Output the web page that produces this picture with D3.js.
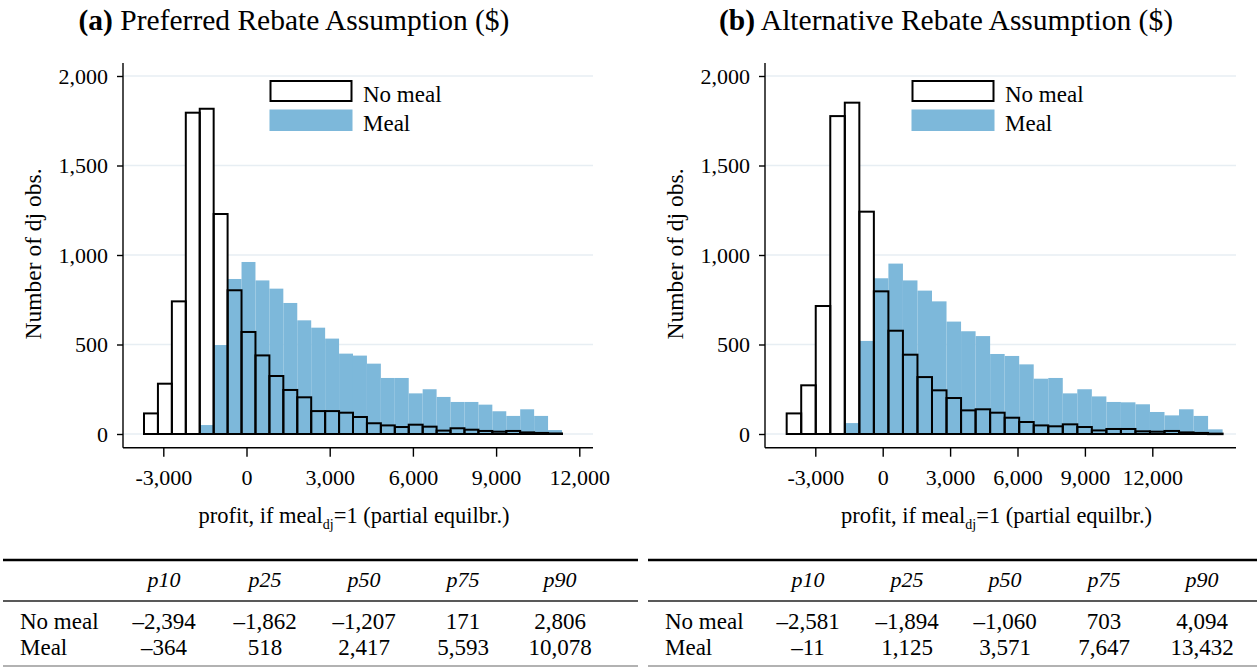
<!DOCTYPE html>
<html>
<head>
<meta charset="utf-8">
<script src="https://cdn.jsdelivr.net/npm/d3@7"></script>
<style>
  html, body { margin: 0; padding: 0; background: #fff; }
  svg { display: block; font-family: "Liberation Serif", "DejaVu Serif", serif; }
</style>
</head>
<body>
<svg id="chart" width="1257" height="667"></svg>
<script>
// ---------------- DATA ----------------
const xTickValues = [-3000, 0, 3000, 6000, 9000, 12000];
const yTickValues = [0, 500, 1000, 1500, 2000];

// Panel (a): histogram bins (start, width) and counts
const binStartA = -3696, binWidthA = 502.4;
const noMealA = [115,281,741,1795,1817,1229,803,570,439,324,246,205,128,128,119,95,60,48,39,52,41,19,32,24,17,13,17,9,6,3];
const mealA   = [0,0,0,0,50,497,866,961,858,812,732,635,594,533,449,438,393,313,313,227,250,207,179,179,164,127,101,138,101,22];

// Panel (b)
const binStartB = -4274, binWidthB = 646.8;
const noMealB = [115,272,715,1776,1851,1242,797,577,443,318,244,201,132,138,119,91,67,48,43,54,39,20,28,28,15,13,17,9,6,2];
const mealB   = [0,0,0,0,61,520,870,952,858,801,741,628,574,547,447,436,389,309,313,227,250,210,179,177,166,123,104,138,101,26];

// Percentile tables
const pctHeaders = ["p10", "p25", "p50", "p75", "p90"];
const rowLabels = ["No meal", "Meal"];
const tableA_noMeal = [-2394, -1862, -1207, 171, 2806];
const tableA_meal   = [-364, 518, 2417, 5593, 10078];
const tableB_noMeal = [-2581, -1894, -1060, 703, 4094];
const tableB_meal   = [-11, 1125, 3571, 7647, 13432];

const legendLabels = ["No meal", "Meal"];
const titlesA = ["(a)", " Preferred Rebate Assumption ($)"];
const titlesB = ["(b)", " Alternative Rebate Assumption ($)"];

// ---------------- STYLE ----------------
const MEAL_BLUE = "#7db8da";
const GRID = "#e7eef3";

const svg = d3.select("#chart");
const fmt = d3.format(",");
const tickFmt = d => d < 0 ? "-" + fmt(-d) : fmt(d);
const tabFmt = d => d < 0 ? "\u2013" + fmt(-d) : fmt(d);

function drawPanel(cfg) {
  const g = svg.append("g");
  const x = d3.scaleLinear().domain([-3000, 12000]).range([cfg.x0, cfg.x1]);
  const y = d3.scaleLinear().domain([0, 2000]).range([434, 76]);
  const plotTop = 63, axisY = 447.7;

  // gridlines
  g.append("g").selectAll("line").data(yTickValues).join("line")
    .attr("x1", cfg.axisLeft).attr("x2", cfg.axisRight)
    .attr("y1", d => y(d)).attr("y2", d => y(d))
    .attr("stroke", GRID).attr("stroke-width", 1.3);

  const binsNo = cfg.noMeal.map((v, i) => ({x0: cfg.start + i * cfg.width, x1: cfg.start + (i + 1) * cfg.width, v}));
  const binsMeal = cfg.meal.map((v, i) => ({x0: cfg.start + i * cfg.width, x1: cfg.start + (i + 1) * cfg.width, v}));

  // no-meal white fill
  g.append("g").selectAll("rect").data(binsNo).join("rect")
    .attr("x", d => x(d.x0)).attr("width", d => x(d.x1) - x(d.x0))
    .attr("y", d => y(d.v)).attr("height", d => y(0) - y(d.v))
    .attr("fill", "#fff");
  // meal bars
  g.append("g").selectAll("rect").data(binsMeal.filter(d => d.v > 0)).join("rect")
    .attr("x", d => x(d.x0)).attr("width", d => x(d.x1) - x(d.x0))
    .attr("y", d => y(d.v)).attr("height", d => y(0) - y(d.v))
    .attr("fill", MEAL_BLUE);
  // no-meal outlines
  g.append("g").selectAll("rect").data(binsNo).join("rect")
    .attr("x", d => x(d.x0)).attr("width", d => x(d.x1) - x(d.x0))
    .attr("y", d => y(d.v)).attr("height", d => Math.max(0.5, y(0) - y(d.v)))
    .attr("fill", "none").attr("stroke", "#000").attr("stroke-width", 2);

  // x axis
  const xa = g.append("g").attr("transform", `translate(0,${axisY})`)
    .call(d3.axisBottom(x).tickValues(xTickValues).tickFormat(tickFmt).tickSize(9).tickPadding(13));
  xa.select(".domain").remove();
  xa.append("line").attr("x1", cfg.axisLeft).attr("x2", cfg.axisRight).attr("stroke", "#000").attr("stroke-width", 1.4);
  xa.selectAll(".tick line").attr("stroke", "#000").attr("stroke-width", 1.4);
  xa.selectAll("text").attr("font-size", 22).attr("fill", "#000").attr("font-family", "Liberation Serif");

  // y axis
  const ya = g.append("g").attr("transform", `translate(${cfg.axisLeft},0)`)
    .call(d3.axisLeft(y).tickValues(yTickValues).tickFormat(fmt).tickSize(6).tickPadding(9));
  ya.select(".domain").remove();
  ya.append("line").attr("y1", plotTop).attr("y2", axisY).attr("stroke", "#000").attr("stroke-width", 1.4);
  ya.selectAll(".tick line").attr("stroke", "#000").attr("stroke-width", 1.4);
  ya.selectAll("text").attr("font-size", 22).attr("fill", "#000").attr("font-family", "Liberation Serif");

  // y title
  g.append("text").attr("transform", `translate(${cfg.axisLeft - 90},254) rotate(-90)`)
    .attr("text-anchor", "middle").attr("dominant-baseline", "central")
    .attr("font-size", 23.5).text("Number of dj obs.");

  // x title
  const xt = g.append("text").attr("x", (cfg.axisLeft + cfg.axisRight) / 2 - 4).attr("y", 523)
    .attr("text-anchor", "middle").attr("font-size", 22.5);
  xt.append("tspan").text("profit, if meal");
  xt.append("tspan").attr("font-size", 14).attr("dy", 6).text("dj");
  xt.append("tspan").attr("dy", -6).text("=1 (partial equilbr.)");

  // title
  const tt = g.append("text").attr("x", cfg.titleX).attr("y", 30).attr("text-anchor", "middle").attr("font-size", 29.5);
  tt.append("tspan").attr("font-weight", "bold").text(cfg.titles[0]);
  tt.append("tspan").text(cfg.titles[1]);

  // legend
  const lx = cfg.legendX;
  g.append("rect").attr("x", lx).attr("y", 81).attr("width", 81).attr("height", 20)
    .attr("fill", "#fff").attr("stroke", "#000").attr("stroke-width", 2);
  g.append("rect").attr("x", lx - 1).attr("y", 109.5).attr("width", 83).attr("height", 21.5)
    .attr("fill", MEAL_BLUE);
  g.append("text").attr("x", lx + 92.5).attr("y", 94).attr("dominant-baseline", "central")
    .attr("font-size", 23).text(legendLabels[0]);
  g.append("text").attr("x", lx + 92.5).attr("y", 123).attr("dominant-baseline", "central")
    .attr("font-size", 23).text(legendLabels[1]);

  // table
  const t = svg.append("g");
  t.append("line").attr("x1", cfg.tx0).attr("x2", cfg.tx1).attr("y1", 560).attr("y2", 560)
    .attr("stroke", "#000").attr("stroke-width", 2.4);
  t.append("line").attr("x1", cfg.tx0).attr("x2", cfg.tx1).attr("y1", 601).attr("y2", 601)
    .attr("stroke", "#222").attr("stroke-width", 1.6);
  t.append("line").attr("x1", cfg.tx0).attr("x2", cfg.tx1).attr("y1", 666).attr("y2", 666)
    .attr("stroke", "#999").attr("stroke-width", 1.4);
  t.selectAll(".hdr").data(pctHeaders).join("text")
    .attr("x", (d, i) => cfg.cols[i]).attr("y", 587).attr("text-anchor", "middle")
    .attr("font-size", 22).attr("font-style", "italic").text(d => d);
  const rows = [cfg.tRow1, cfg.tRow2];
  const baselines = [629, 655];
  rows.forEach((r, ri) => {
    t.append("text").attr("x", cfg.tx0 + 17).attr("y", baselines[ri]).attr("font-size", 23).text(rowLabels[ri]);
    t.append("g").selectAll("text").data(r).join("text")
      .attr("x", (d, i) => cfg.cols[i]).attr("y", baselines[ri]).attr("text-anchor", "middle")
      .attr("font-size", 23).text(d => tabFmt(d));
  });
}

drawPanel({
  x0: 163.3, x1: 579.3, axisLeft: 123, axisRight: 593,
  start: binStartA, width: binWidthA, noMeal: noMealA, meal: mealA,
  titleX: 294, titles: titlesA, legendX: 270.5,
  tx0: 3, tx1: 638, cols: [164, 265, 364, 463, 560],
  tRow1: tableA_noMeal, tRow2: tableA_meal
});
drawPanel({
  x0: 815.3, x1: 1152.3, axisLeft: 765, axisRight: 1236,
  start: binStartB, width: binWidthB, noMeal: noMealB, meal: mealB,
  titleX: 946, titles: titlesB, legendX: 912.5,
  tx0: 648, tx1: 1257, cols: [808, 907, 1005, 1104, 1202],
  tRow1: tableB_noMeal, tRow2: tableB_meal
});
</script>
</body>
</html>
